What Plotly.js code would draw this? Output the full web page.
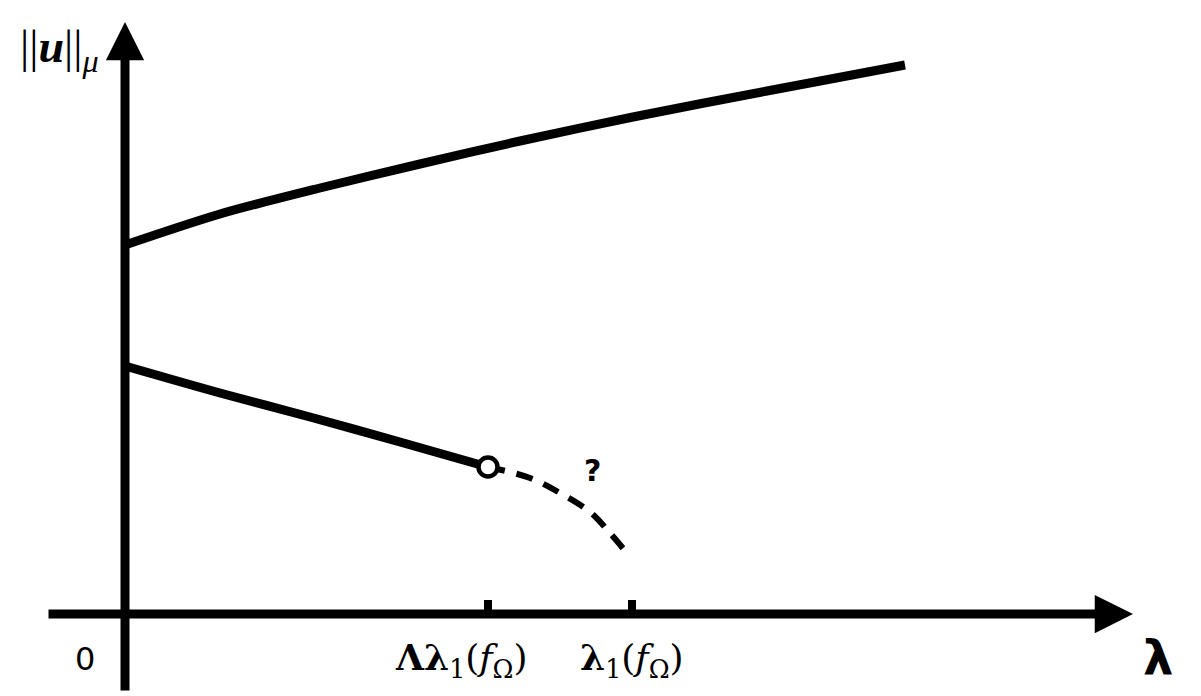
<!DOCTYPE html>
<html>
<head>
<meta charset="utf-8">
<script src="https://cdn.plot.ly/plotly-3.0.1.min.js"></script>
<style>
  html, body { margin: 0; padding: 0; background: #fff; }
  #plot { width: 1201px; height: 696px; }
</style>
</head>
<body>
<div id="plot"></div>
<script>
// ramo superior (solução grande)
const upperLam = [0, 0.95, 1.95, 2.95, 3.95, 5.08, 6.42, 7.80];
const upperNorm = [3.69, 4.00, 4.26, 4.50, 4.73, 4.97, 5.23, 5.49];

// ramo inferior até Λλ1
const lowerLam = [0, 0.95, 1.85, 2.75, 3.63];
const lowerNorm = [2.48, 2.21, 1.97, 1.72, 1.47];

// continuação desconhecida (tracejada)
const dashLam = [3.63, 4.05, 4.35, 4.65, 4.85, 5.01];
const dashNorm = [1.47, 1.36, 1.21, 1.02, 0.81, 0.62];

// marcas no eixo λ
const tickLam = [3.63, 5.07];
const tickLabels = ["<b>Λλ</b><sub>1</sub>(<i>f</i><sub>Ω</sub>)", "<b>λ</b><sub>1</sub>(<i>f</i><sub>Ω</sub>)"];
const tickLabelLam = [3.36, 5.07];

const xRange = [-1.25, 10.76];
const yRange = [-0.82, 6.14];

function buildPlot() {
  const plotDiv = document.getElementById("plot");

  const traces = [
    {
      x: upperLam, y: upperNorm, mode: "lines",
      line: { color: "black", width: 9, shape: "spline", smoothing: 0.8 },
      hoverinfo: "none"
    },
    {
      x: lowerLam, y: lowerNorm, mode: "lines",
      line: { color: "black", width: 9, shape: "spline", smoothing: 0.8 },
      hoverinfo: "none"
    },
    {
      x: dashLam, y: dashNorm, mode: "lines",
      line: { color: "black", width: 6, shape: "spline", dash: "17px,12px" },
      hoverinfo: "none"
    },
    {
      x: [lowerLam[lowerLam.length - 1]], y: [lowerNorm[lowerNorm.length - 1]],
      mode: "markers",
      marker: { symbol: "circle", size: 19, color: "white", line: { color: "black", width: 4.5 } },
      hoverinfo: "none"
    }
  ];

  const shapes = tickLam.map((t) => ({
    type: "line", xref: "x", yref: "y",
    x0: t, x1: t, y0: 0, y1: 0.14,
    line: { color: "black", width: 8 }
  }));

  const annotations = [
    // eixos com setas
    {
      x: 0, y: 5.92, ax: 0, ay: -0.78, xref: "x", yref: "y", axref: "x", ayref: "y",
      text: "", showarrow: true, arrowhead: 2, arrowwidth: 9, arrowsize: 0.85, arrowcolor: "black"
    },
    {
      x: 10.08, y: 0, ax: -0.78, ay: 0, xref: "x", yref: "y", axref: "x", ayref: "y",
      text: "", showarrow: true, arrowhead: 2, arrowwidth: 9, arrowsize: 0.85, arrowcolor: "black"
    },
    {
      x: -0.40, y: -0.45, xref: "x", yref: "y", showarrow: false, text: "0",
      font: { family: "DejaVu Sans", size: 32, color: "black" }
    },
    {
      x: 10.33, y: -0.44, xref: "x", yref: "y", showarrow: false, text: "<b>λ</b>",
      font: { family: "DejaVu Sans", size: 48, color: "black" }
    },
    {
      x: -0.66, y: 5.64, xref: "x", yref: "y", showarrow: false,
      text: "||<b><i>u</i></b>||<sub><i>μ</i></sub>",
      font: { family: "Liberation Serif", size: 46, color: "black" }
    },
    {
      x: 4.67, y: 1.44, xref: "x", yref: "y", showarrow: false, text: "<b>?</b>",
      font: { family: "DejaVu Sans", size: 30, color: "black" }
    }
  ];

  tickLabels.forEach((lbl, i) => {
    annotations.push({
      x: tickLabelLam[i], y: -0.46, xref: "x", yref: "y", showarrow: false, text: lbl,
      font: { family: "DejaVu Serif", size: 36, color: "black" }
    });
  });

  const layout = {
    width: 1201, height: 696,
    margin: { l: 0, r: 0, t: 0, b: 0 },
    showlegend: false,
    paper_bgcolor: "white", plot_bgcolor: "white",
    xaxis: { range: xRange, visible: false, fixedrange: true },
    yaxis: { range: yRange, visible: false, fixedrange: true },
    shapes: shapes,
    annotations: annotations
  };

  Plotly.newPlot(plotDiv, traces, layout, { staticPlot: true });
}

document.addEventListener("DOMContentLoaded", buildPlot);
</script>
</body>
</html>
